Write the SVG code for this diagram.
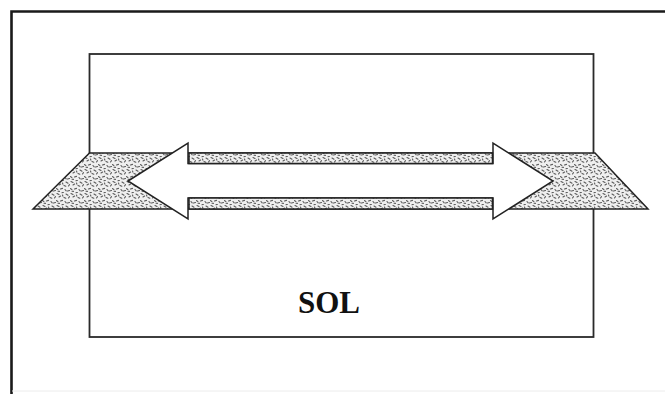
<svg xmlns="http://www.w3.org/2000/svg" width="665" height="394" viewBox="0 0 665 394">
  <defs>
    <!-- speckled fill for the soil layer -->
    <pattern id="speckle" width="14" height="12" patternUnits="userSpaceOnUse">
      <rect width="14" height="12" fill="#efefef"/>
      <g stroke="#5a5a5a" stroke-width="1.1" stroke-linecap="round" fill="none">
        <path d="M1 1.5 l2 1"/>
        <path d="M6 0.8 l1.5 -0.6"/>
        <path d="M10 2 l2 1.2"/>
        <path d="M3 5 l1.6 -1"/>
        <path d="M8 5.5 l1.8 0.8"/>
        <path d="M12.5 6 l1 -1.4"/>
        <path d="M0.5 8.5 l1.4 1.2"/>
        <path d="M4.5 9 l2 -0.6"/>
        <path d="M9 9.5 l1.2 1.4"/>
        <path d="M11.5 11 l2 -0.5"/>
        <path d="M6.5 3 l0.4 1.2"/>
        <path d="M2 11.2 l1.5 0.2"/>
      </g>
    </pattern>
    <style>
      .frame { fill: none; stroke: #1a1a1a; stroke-width: 2.6; }
      .box { fill: none; stroke: #2a2a2a; stroke-width: 1.8; }
      .soil { fill: url(#speckle); stroke: #222; stroke-width: 1.5; stroke-linejoin: miter; }
      .arrow { fill: #ffffff; stroke: #222; stroke-width: 1.5; stroke-linejoin: miter; }
      .label { font-family: "Liberation Serif", "Times New Roman", serif; font-weight: bold; font-size: 31px; fill: #111; }
    </style>
  </defs>

  <rect width="665" height="394" fill="#ffffff"/>

  <!-- outer frame (top and left edges) -->
  <path class="frame" d="M11.5 394 V11.5 H665"/>
  <line x1="12" y1="391" x2="665" y2="391" stroke="#ececec" stroke-width="1"/>

  <!-- inner block -->
  <g id="block">
    <rect class="box" x="89.5" y="54" width="504" height="283"/>
  </g>

  <!-- soil layer crossing the block -->
  <g id="layer">
    <polygon class="soil" points="33,209 89.5,153 595,153 648,209"/>
  </g>

  <g id="connectors">
    <!-- double-headed arrow -->
    <polygon class="arrow" points="128,181 188,143 188,163.5 493,163.5 493,143 553,181 493,219 493,198 188,198 188,219"/>
    <!-- speckled bands along the shaft -->
    <rect class="soil" x="189" y="153" width="303.5" height="10.5"/>
    <rect class="soil" x="189" y="198" width="303.5" height="11"/>
  </g>

  <g id="label">
    <text class="label" x="298" y="313">SOL</text>
  </g>
</svg>
